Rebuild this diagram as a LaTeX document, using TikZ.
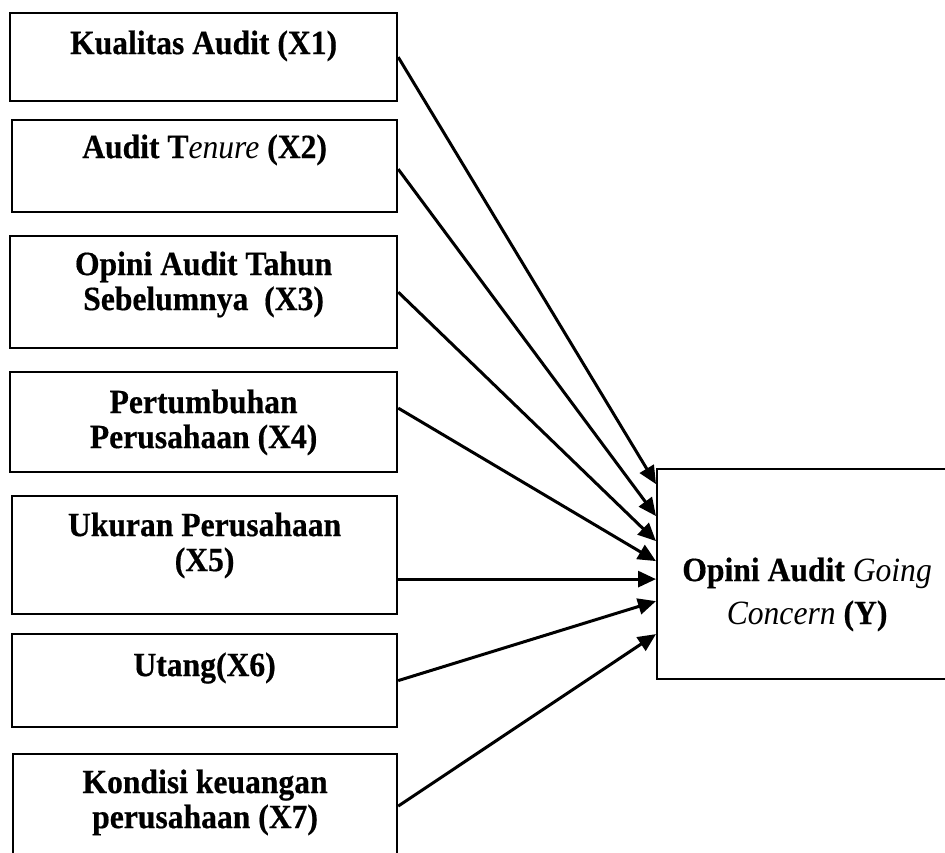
\documentclass[tikz,border=0pt]{standalone}
\usepackage{fontspec}
\setmainfont[FakeStretch=0.93,BoldFeatures={FakeBold=0.5}]{Liberation Serif}
\usetikzlibrary{arrows.meta}

\tikzset{
  var/.style={draw, line width=2.2pt, anchor=north west, inner sep=0pt},
  txt/.style={anchor=north, align=center, inner sep=0pt, font=\fontsize{34}{35}\selectfont\bfseries},
}

\begin{document}
\begin{tikzpicture}[x=1pt,y=-1pt,->,>={Triangle[length=18pt,width=16pt]},line width=3pt]
  \useasboundingbox (0,0) rectangle (945,852);

  \node[var,minimum width=387pt,minimum height=88pt,
        label={[txt,yshift=-17pt]north:{Kualitas Audit (X1)}}] (x1) at (9,12) {};
  \node[var,minimum width=385pt,minimum height=92pt,
        label={[txt,yshift=-14pt]north:{Audit T\textnormal{\itshape enure} (X2)}}] (x2) at (11,119) {};
  \node[var,minimum width=387pt,minimum height=112pt,
        label={[txt,yshift=-15pt]north:{Opini Audit Tahun\\Sebelumnya\ \ (X3)}}] (x3) at (9,235) {};
  \node[var,minimum width=387pt,minimum height=100pt,
        label={[txt,yshift=-17pt]north:{Pertumbuhan\\Perusahaan (X4)}}] (x4) at (9,371) {};
  \node[var,minimum width=385pt,minimum height=118pt,
        label={[txt,yshift=-16pt]north:{Ukuran Perusahaan\\(X5)}}] (x5) at (11,495) {};
  \node[var,minimum width=385pt,minimum height=93pt,
        label={[txt,yshift=-18pt]north:{Utang(X6)}}] (x6) at (11,633) {};
  \node[var,minimum width=384pt,minimum height=104pt,
        label={[txt,yshift=-15pt]north:{Kondisi keuangan\\perusahaan (X7)}}] (x7) at (12,753) {};

  \node[var,minimum width=294pt,minimum height=210pt,
        label={[txt,yshift=-88pt,xshift=3pt,font=\fontsize{34}{43}\selectfont\bfseries]north:{Opini Audit \textnormal{\itshape Going}\\\textnormal{\itshape Concern} (Y)}}] (y) at (656,468) {};

  % arrows into Y
  \foreach \src/\sy/\ty in {x1/0/90, x2/-3/58, x3/0/33, x4/14/13, x5/-24/-5, x6/0/-27, x7/0/-60}
    \draw ([yshift=\sy pt]\src.east) -- ([yshift=\ty pt]y.west);
\end{tikzpicture}
\end{document}
